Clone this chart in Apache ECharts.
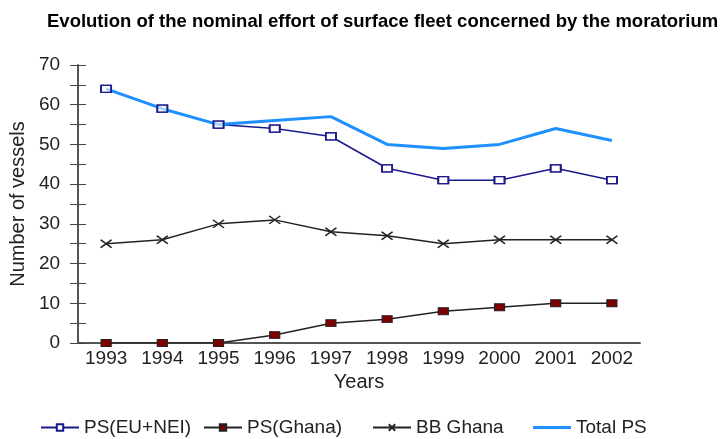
<!DOCTYPE html>
<html>
<head>
<meta charset="utf-8">
<script src="https://cdn.jsdelivr.net/npm/echarts@6/dist/echarts.min.js"></script>
<style>
  html, body { margin: 0; padding: 0; background: #fff; }
  #main { width: 723px; height: 439px; }
</style>
</head>
<body>
<div id="main"></div>
<script>
// data
var years = ['1993', '1994', '1995', '1996', '1997', '1998', '1999', '2000', '2001', '2002'];
var psEuNei = [64, 59, 55, 54, 52, 44, 41, 41, 44, 41];
var psGhana = [0, 0, 0, 2, 5, 6, 8, 9, 10, 10];
var bbGhana = [25, 26, 30, 31, 28, 27, 25, 26, 26, 26];
var totalPs = [64, 59, 55, 56, 57, 50, 49, 50, 54, 51];

var font = 'Liberation Sans, Arial, sans-serif';
var txt = '#222';
var chart = echarts.init(document.getElementById('main'));

// one legend per entry so each sits where it does in the picture
function legendAt(left, item) {
	return {
		left: left,
		top: 418,
		padding: 0,
		itemWidth: 38,
		itemHeight: 8,
		textStyle: {fontFamily: font, fontSize: 19, color: txt},
		data: [item]
	};
}

var option = {
	animation: false,
	title: {
		text: 'Evolution of the nominal effort of surface fleet concerned by the moratorium',
		left: 42,
		top: 7,
		textStyle: {fontFamily: font, fontSize: 18.5, fontWeight: 'bold', color: '#000'}
	},
	legend: [
		legendAt(40, 'PS(EU+NEI)'),
		legendAt(203, 'PS(Ghana)'),
		legendAt(372, 'BB Ghana'),
		legendAt(533, {name: 'Total PS', icon: 'path://M0,0H38V3H0Z'})
	],
	grid: {left: 75, right: 83, top: 65, bottom: 96, containLabel: false},
	xAxis: {
		type: 'category',
		data: years,
		boundaryGap: true,
		name: 'Years',
		nameLocation: 'middle',
		nameGap: 27,
		nameTextStyle: {fontFamily: font, fontSize: 20, color: txt},
		axisLine: {lineStyle: {color: '#555', width: 2}},
		axisTick: {inside: true, alignWithLabel: true, length: 7, lineStyle: {color: '#777'}},
		axisLabel: {fontFamily: font, fontSize: 19, color: txt, margin: 6},
		splitLine: {show: false}
	},
	yAxis: [{
		type: 'value',
		min: 0,
		max: 70,
		interval: 5,
		name: 'Number of vessels',
		nameLocation: 'middle',
		nameGap: 49,
		nameTextStyle: {fontFamily: font, fontSize: 20, color: txt},
		axisLine: {show: true, lineStyle: {color: '#555', width: 2}},
		axisTick: {show: true, length: 8, lineStyle: {color: '#444'}},
		axisLabel: {
			fontFamily: font, fontSize: 19, color: txt, margin: 18,
			formatter: function (v) { return v % 10 === 0 ? v : ''; }
		},
		splitLine: {show: false}
	}, {
		// second copy of the axis, only for the inner half of the ticks
		type: 'value',
		position: 'left',
		min: 0,
		max: 70,
		interval: 5,
		axisLine: {show: false},
		axisTick: {show: true, inside: true, length: 8, lineStyle: {color: '#444'}},
		axisLabel: {show: false},
		splitLine: {show: false}
	}],
	series: [
		{
			name: 'PS(EU+NEI)',
			type: 'line',
			data: psEuNei,
			symbol: 'rect',
			symbolSize: [10, 7],
			lineStyle: {color: '#1a1a8c', width: 1.5},
			itemStyle: {color: '#fff', borderColor: '#1a1a8c', borderWidth: 1.5},
			z: 2
		},
		{
			name: 'PS(Ghana)',
			type: 'line',
			data: psGhana,
			symbol: 'rect',
			symbolSize: [10, 7],
			lineStyle: {color: '#222', width: 1.5},
			itemStyle: {color: '#800000', borderColor: '#222', borderWidth: 1},
			z: 3
		},
		{
			name: 'BB Ghana',
			type: 'line',
			data: bbGhana,
			symbol: 'path://M0,0L10,8M10,0L0,8',
			symbolSize: [11, 8],
			lineStyle: {color: '#222', width: 1.5},
			itemStyle: {color: 'none', borderColor: '#222', borderWidth: 1.5},
			z: 3
		},
		{
			name: 'Total PS',
			type: 'line',
			data: totalPs,
			symbol: 'none',
			showSymbol: false,
			lineStyle: {color: '#1e90ff', width: 3},
			itemStyle: {color: '#1e90ff'},
			z: 3
		},
		{
			// squares of PS(EU+NEI) drawn again above the Total PS line
			name: 'PS(EU+NEI) squares',
			type: 'scatter',
			data: psEuNei,
			symbol: 'rect',
			symbolSize: [10, 7],
			itemStyle: {color: 'rgba(255,255,255,0.6)', borderColor: '#1a1a8c', borderWidth: 1.5, opacity: 1},
			z: 4
		}
	]
};

chart.setOption(option);
</script>
</body>
</html>
